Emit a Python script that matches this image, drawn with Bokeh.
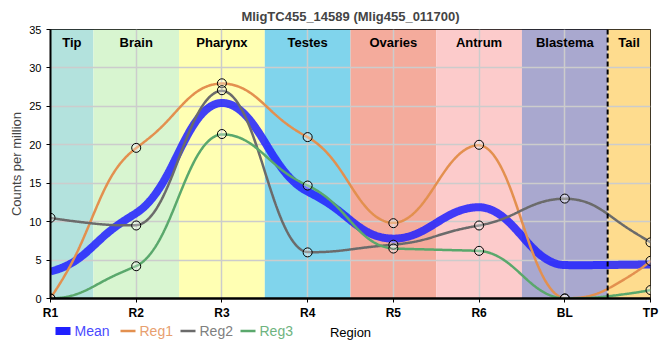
import numpy as np
from bokeh.plotting import figure
from bokeh.layouts import column
from bokeh.models import ColumnDataSource, FixedTicker, Span
from bokeh.core.properties import value
from bokeh.embed import file_html
from bokeh.resources import INLINE

# ---- data ----
regions = ["R1", "R2", "R3", "R4", "R5", "R6", "BL", "TP"]
reg1 = [0.0, 19.6, 28.0, 21.0, 9.8, 20.0, 0.0, 4.9]
reg2 = [10.5, 9.5, 27.1, 6.0, 7.0, 9.5, 13.0, 7.3]
reg3 = [0.0, 4.2, 21.4, 14.7, 6.5, 6.2, 0.0, 1.1]

band_names = ["Tip", "Brain", "Pharynx", "Testes", "Ovaries", "Antrum", "Blastema", "Tail"]
band_left = [0.0, 0.5, 1.5, 2.5, 3.5, 4.5, 5.5, 6.5]
band_right = [0.5, 1.5, 2.5, 3.5, 4.5, 5.5, 6.5, 7.0]
band_colors = ["#b3e2dd", "#d8f5d0", "#ffffb3", "#80d4ec", "#f4ab9c", "#fccbcb", "#a9a8cf", "#fedc8e"]
tail_boundary = 6.5

series_names = ["Mean", "Reg1", "Reg2", "Reg3"]
series_colors = ["#2020ff", "#e3904f", "#6b6b6b", "#5aa86c"]
legend_text_colors = ["#4a4aff", "#e8a070", "#808080", "#6fb47f"]

FONT = "Liberation Sans"


def pchip(x, y, xs):
    x = np.asarray(x, float)
    y = np.asarray(y, float)
    h = np.diff(x)
    delta = np.diff(y) / h
    n = len(x)
    d = np.zeros(n)
    for k in range(1, n - 1):
        if delta[k - 1] * delta[k] <= 0:
            d[k] = 0.0
        else:
            w1 = 2 * h[k] + h[k - 1]
            w2 = h[k] + 2 * h[k - 1]
            d[k] = (w1 + w2) / (w1 / delta[k - 1] + w2 / delta[k])

    def endslope(h0, h1, d0, d1):
        s = ((2 * h0 + h1) * d0 - h0 * d1) / (h0 + h1)
        if np.sign(s) != np.sign(d0):
            s = 0.0
        elif np.sign(d0) != np.sign(d1) and abs(s) > abs(3 * d0):
            s = 3 * d0
        return s

    d[0] = endslope(h[0], h[1], delta[0], delta[1])
    d[-1] = endslope(h[-1], h[-2], delta[-1], delta[-2])
    out = np.empty_like(xs)
    idx = np.clip(np.searchsorted(x, xs) - 1, 0, n - 2)
    for i, xv in enumerate(xs):
        k = idx[i]
        t = (xv - x[k]) / h[k]
        h00 = 2 * t**3 - 3 * t**2 + 1
        h10 = t**3 - 2 * t**2 + t
        h01 = -2 * t**3 + 3 * t**2
        h11 = t**3 - t**2
        out[i] = h00 * y[k] + h10 * h[k] * d[k] + h01 * y[k + 1] + h11 * h[k] * d[k + 1]
    return out


def smooth_step(x, y, xs, sigma=0.2):
    # step function (value held over each region's band) smoothed by a Gaussian
    y = np.asarray(y, float)
    fine = np.linspace(-1.5, len(y) + 0.5, 4000)
    idx = np.clip(np.round(fine).astype(int), 0, len(y) - 1)
    step = y[idx]
    dx = fine[1] - fine[0]
    kx = np.arange(-4 * sigma, 4 * sigma + dx, dx)
    ker = np.exp(-0.5 * (kx / sigma) ** 2)
    ker /= ker.sum()
    sm = np.convolve(step, ker, mode="same")
    return np.interp(xs, fine, sm)


def curve(x, y, xs):
    return 0.65 * pchip(x, y, xs) + 0.35 * smooth_step(x, y, xs)


xpos = np.arange(len(regions), dtype=float)
mean = list(np.mean([reg1, reg2, reg3], axis=0))
all_series = [mean, reg1, reg2, reg3]
xs = np.linspace(0, len(regions) - 1, 700)

p = figure(width=660, height=322, x_range=(0, 7), y_range=(0, 35),
           output_backend="svg", toolbar_location=None,
           title="MligTC455_14589 (Mlig455_011700)",
           min_border_left=50, min_border_right=10, min_border_top=0, min_border_bottom=21)
p.title.align = "center"
p.title.text_font = FONT
p.title.text_font_size = "13px"
p.title.text_font_style = "bold"
p.title.offset = -20
p.title.standoff = 12

p.outline_line_color = "black"
p.outline_line_width = 1
p.outline_line_alpha = 1

# bands
bsrc = ColumnDataSource(dict(left=band_left, right=band_right, color=band_colors,
                             name=band_names,
                             cx=[(a + b) / 2 for a, b in zip(band_left, band_right)],
                             top=[35] * len(band_names)))
p.quad(left="left", right="right", bottom=0, top="top", fill_color="color",
       line_color=None, source=bsrc, level="image")

p.text(x="cx", y="top", text="name", source=bsrc, text_align="center",
       text_baseline="top", y_offset=5, text_font=value(FONT),
       text_font_size="13px", text_font_style="bold", text_color="black")

p.add_layout(Span(location=tail_boundary, dimension="height", line_color="black",
                  line_width=2, line_dash="5 3"))

# grids
for g in (p.xgrid, p.ygrid):
    g.grid_line_color = "#cccccc"
    g.grid_line_width = 1.5
p.xgrid.ticker = FixedTicker(ticks=list(xpos))
p.ygrid.ticker = FixedTicker(ticks=list(range(0, 36, 5)))

# curves
widths = [8, 2.5, 2.5, 2.5]
alphas = [0.85, 1, 1, 1]
for name, vals, col, w, a in zip(series_names, all_series, series_colors, widths, alphas):
    ys = curve(xpos, vals, xs)
    p.line(xs, ys, line_color=col, line_width=w, line_alpha=a)

for vals in all_series[1:]:
    p.scatter(xpos, vals, size=9, marker="circle", fill_color="white", fill_alpha=0.3,
              line_color="black", line_width=1)

# axes
p.xaxis.ticker = FixedTicker(ticks=list(xpos))
p.xaxis.major_label_overrides = {i: r for i, r in enumerate(regions)}
p.yaxis.axis_label = "Counts per million"
p.yaxis.ticker = FixedTicker(ticks=list(range(0, 36, 5)))
for ax in (p.xaxis[0], p.yaxis[0]):
    ax.axis_line_color = "black"
    ax.major_tick_line_color = "black"
    ax.minor_tick_line_color = None
    ax.major_tick_out = 4
    ax.major_tick_in = 0
    ax.axis_label_text_font = FONT
    ax.axis_label_text_font_style = "normal"
    ax.axis_label_text_font_size = "13px"
    ax.major_label_text_font = FONT
    ax.major_label_text_color = "black"
p.xaxis.axis_line_width = 2.5
p.yaxis.axis_line_width = 2
p.xaxis.major_label_text_font_size = "12px"
p.xaxis.major_label_text_font_style = "bold"
p.xaxis.major_label_standoff = 3
p.yaxis.major_label_text_font_size = "11px"
p.yaxis.axis_label_standoff = 2

# ---- legend row (each label in its series colour) with the x-axis title ----
# the column layout aligns this frame with the main frame (page x 50..650)
leg = figure(width=660, height=38, x_range=(50, 650), y_range=(38, 0),
             output_backend="svg", toolbar_location=None,
             x_axis_type=None, y_axis_type=None,
             min_border_left=50, min_border_right=10, min_border_top=0, min_border_bottom=0)
leg.outline_line_color = None
leg.xgrid.visible = False
leg.ygrid.visible = False
leg.background_fill_alpha = 0
leg.border_fill_alpha = 0

swatch_x0 = [55, 120, 180, 240]
swatch_len = 15
row_y = 8.5
lsrc = ColumnDataSource(dict(
    x0=swatch_x0, x1=[x + swatch_len for x in swatch_x0], y=[row_y] * 4,
    tx=[x + swatch_len + 4 for x in swatch_x0], label=series_names,
    color=series_colors, tcolor=legend_text_colors, w=widths))
leg.segment(x0="x0", y0="y", x1="x1", y1="y", line_color="color", line_width="w",
            source=lsrc)
leg.text(x="tx", y="y", text="label", text_color="tcolor", source=lsrc,
         text_baseline="middle", text_align="left", text_font=value(FONT),
         text_font_size="14px")
leg.text(x=[350], y=[row_y + 1], text=["Region"], text_align="center",
         text_baseline="middle", text_font=value(FONT), text_font_size="13px",
         text_color="black")

open("out.html", "w").write(file_html(column(p, leg, spacing=0), INLINE))
